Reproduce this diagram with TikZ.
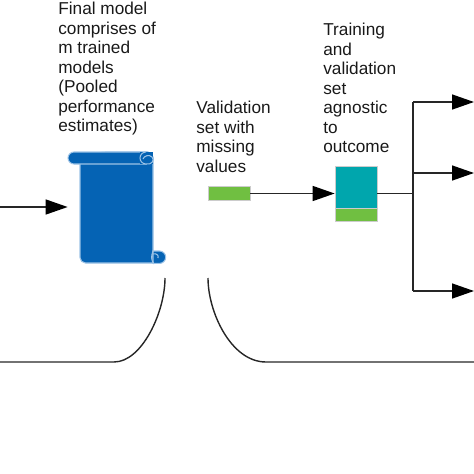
\documentclass[tikz,border=0pt]{standalone}
\usepackage{fontspec}
\setmainfont{Liberation Sans}
\usetikzlibrary{arrows.meta}
\definecolor{scrollblue}{HTML}{0563B4}
\definecolor{scrolledge}{HTML}{9DC3E6}
\definecolor{setgreen}{HTML}{70BF41}
\definecolor{setteal}{HTML}{00A6AD}
\tikzset{
  caption/.style={align=left,anchor=north west,inner sep=0pt,font=\fontsize{9.8pt}{11.15pt}\selectfont,text=black!90},
  setbox/.style={draw=black!20,line width=0.4pt,minimum width=0.84cm,inner sep=0pt},
  scrollpart/.style={draw=scrolledge,fill=scrollblue,line width=0.6pt},
  link/.style={draw=black!85,line width=0.8pt},
  flow/.style={link,-{Triangle[length=0.44cm,width=0.3cm,fill=black,color=black]}}
}
\begin{document}
\begin{tikzpicture}[x=0.02cm,y=-0.02cm]
\useasboundingbox (0,0) rectangle (474,474);
% Textes
\node[caption] (finaltext) at (58,1.6) {Final model\\comprises of\\m trained\\models\\(Pooled\\performance\\estimates)};
\node[caption] (validtext) at (196,100.6) {Validation\\set with\\missing\\values};
\node[caption] (traintext) at (323,22.6) {Training\\and\\validation\\set\\agnostic\\to\\outcome};
% Parchemin
\draw[scrollpart,rounded corners=1.1mm] (80,158) -- (80,263) -- (159,263) -- (153,263) -- (153,152) -- (100,152) -- (80,158);
\draw[scrollpart] (153,251) -- (159.5,251) arc (-90:90:6.2) -- (153,263.4) -- cycle;
\draw[scrollpart,rounded corners=1.1mm] (146,152) -- (153,152) -- (153,160);
\draw[scrollpart] (74,152) -- (146,152) -- (146,164) -- (74,164) arc (90:270:6) -- cycle;
\fill[scrollblue] (140,152.4) rectangle (152.6,163.6);
\draw[scrolledge,line width=0.6pt] (146,164) arc (90:270:6) (146,164) .. controls (152,165) and (155,160) .. (152,157) .. controls (149,154) and (144,156) .. (143,159);
\draw[scrolledge,line width=0.6pt] (153,251) .. controls (151,256) and (151,260) .. (154,264) (153,254) .. controls (156,253) and (159,255) .. (158,258);
\node[inner sep=0pt,minimum size=0pt] (scrollwest) at (68,207) {};
\coordinate (entry) at (0,207);
% Ensembles
\node[setbox,fill=setgreen,minimum height=0.28cm] (missingset) at (229,193.5) {};
\node[setbox,fill=setteal,minimum height=0.84cm] (trainset) at (356,187) {};
\node[setbox,fill=setgreen,minimum height=0.26cm,anchor=north] (validset) at (trainset.south) {};
% Fleches
\coordinate (trunk) at (413,193.5);
\coordinate (trunktop) at (413,102);
\coordinate (trunkmid) at (413,173);
\coordinate (trunkbot) at (413,291);
\coordinate (outtop) at (474,102);
\coordinate (outmid) at (474,173);
\coordinate (outbot) at (474,291);
\draw[flow] (entry) -- (scrollwest);
\draw[flow] (missingset.east) -- (missingset.east -| trainset.west);
\draw[link] (missingset.east -| trainset.east) -- (trunk);
\draw[link] (trunktop) -- (trunkbot);
\foreach \from/\to in {trunktop/outtop, trunkmid/outmid, trunkbot/outbot} {
\draw[flow] (\from) -- (\to);
}
% Courbes du bas
\coordinate (leftstart) at (165,278);
\coordinate (leftend) at (0,362);
\coordinate (rightstart) at (208,278);
\coordinate (rightend) at (474,362);
\draw[link] (leftstart) .. controls (165,312) and (142,362) .. (114,362) -- (leftend);
\draw[link] (rightstart) .. controls (208,312) and (231,362) .. (266,362) -- (rightend);
\end{tikzpicture}
\end{document}
